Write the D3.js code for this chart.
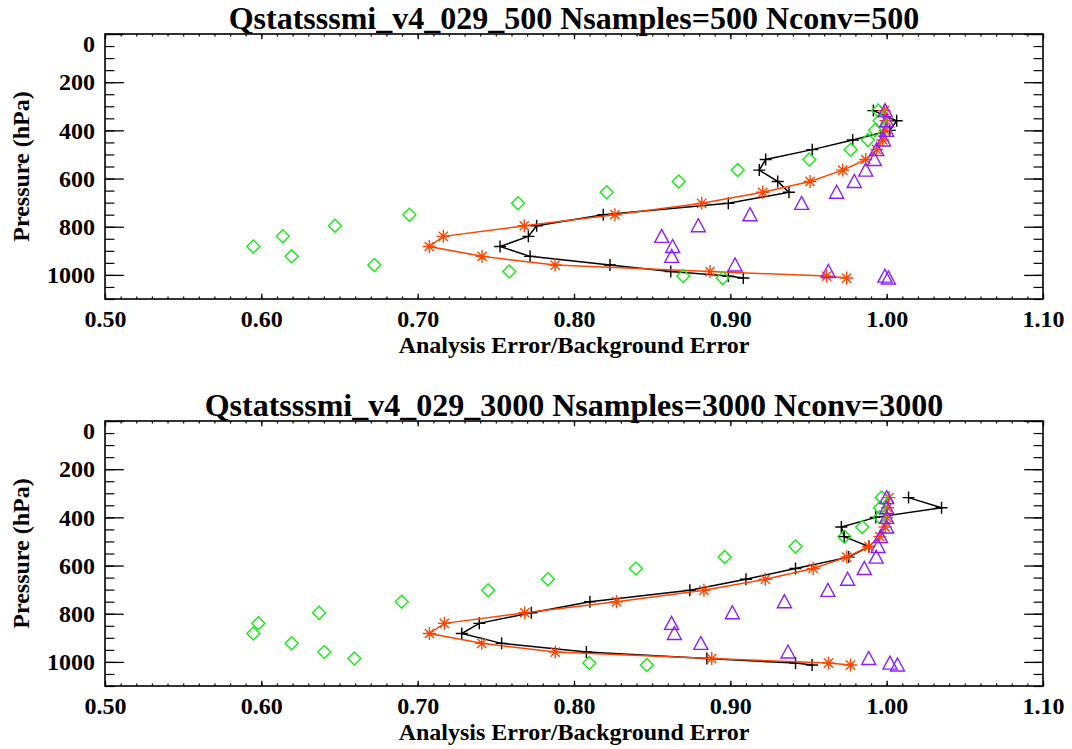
<!DOCTYPE html>
<html>
<head>
<meta charset="utf-8">
<script src="https://cdn.jsdelivr.net/npm/d3@7"></script>
<style>
  body { margin: 0; background: #fff; }
  svg { display: block; }
  text { font-family: "Liberation Serif", "Times New Roman", Tinos, "Nimbus Roman", "DejaVu Serif", serif; font-weight: 700; fill: #000; }
</style>
</head>
<body>
<svg id="chart" width="1072" height="749"></svg>
<script>
// Pressure levels (hPa) shared by every profile
const levels = [318, 360, 400, 440, 480, 521, 565, 612, 657, 703, 750, 796, 840, 882, 923, 959, 986, 1005, 1013];

// Axis ticks
const ratioTicks = [0.5, 0.6, 0.7, 0.8, 0.9, 1.0, 1.1];
const pressureTicks = [0, 200, 400, 600, 800, 1000];

// Panel titles and axis titles
const titles = [
  "Qstatsssmi_v4_029_500 Nsamples=500 Nconv=500",
  "Qstatsssmi_v4_029_3000 Nsamples=3000 Nconv=3000"
];
const xTitle = "Analysis Error/Background Error";
const yTitle = "Pressure (hPa)";

// Nsamples=500 profiles
const blackRun500  = [0.9915, 1.0064, 1.0020, 0.9783, 0.9524, 0.9226, 0.9185, 0.9303, 0.9375, 0.8987, 0.8187, 0.7761, 0.7708, 0.7527, 0.7719, 0.8230, 0.8619, 0.8987, 0.9083];
const redRun500    = [0.9985, 0.9995, 0.9990, 0.9975, 0.9936, 0.9866, 0.9719, 0.9510, 0.9207, 0.8817, 0.8262, 0.7682, 0.7164, 0.7074, 0.7412, 0.7879, 0.8870, 0.9616, 0.9744];
const greenRun500  = [0.9946, 0.9955, 0.9926, 0.9880, 0.9770, 0.9505, 0.9047, 0.8670, 0.8209, 0.7642, 0.6947, 0.6471, 0.6137, 0.5949, 0.6194, 0.6723, 0.7586, 0.8699, 0.8951];
const purpleRun500 = [0.9990, 1.0000, 1.0000, 0.9980, 0.9936, 0.9921, 0.9866, 0.9793, 0.9680, 0.9456, 0.9126, 0.8795, 0.8561, 0.8631, 0.8625, 0.9030, 0.9627, 0.9989, 1.0011];

// Nsamples=3000 profiles
const blackRun3000  = [1.0140, 1.0351, 0.9930, 0.9710, 0.9729, 0.9886, 0.9757, 0.9417, 0.9100, 0.8741, 0.8102, 0.7727, 0.7394, 0.7282, 0.7537, 0.8079, 0.8850, 0.9417, 0.9523];
const redRun3000    = [1.0015, 1.0005, 1.0000, 0.9990, 0.9956, 0.9886, 0.9745, 0.9530, 0.9224, 0.8831, 0.8272, 0.7685, 0.7171, 0.7075, 0.7410, 0.7880, 0.8881, 0.9628, 0.9769];
const greenRun3000  = [0.9968, 0.9957, 0.9956, 0.9844, 0.9729, 0.9417, 0.8964, 0.8396, 0.7833, 0.7451, 0.6898, 0.6369, 0.5981, 0.5949, 0.6194, 0.6403, 0.6595, 0.8098, 0.8466];
const purpleRun3000 = [1.0000, 1.0000, 1.0000, 1.0000, 0.9961, 0.9945, 0.9933, 0.9857, 0.9750, 0.9624, 0.9346, 0.9013, 0.8624, 0.8642, 0.8811, 0.9369, 0.9885, 1.0021, 1.0069];

const panels = [
  { title: titles[0], top: 34,  series: [blackRun500,  redRun500,  greenRun500,  purpleRun500] },
  { title: titles[1], top: 421, series: [blackRun3000, redRun3000, greenRun3000, purpleRun3000] }
];

// Series styling: colour, marker, connecting line
const styles = [
  { color: "#000000", marker: "plus",     line: true  },
  { color: "#ff4500", marker: "asterisk", line: true  },
  { color: "#14eb14", marker: "diamond",  line: false },
  { color: "#8a1eff", marker: "triangle", line: false }
];

const markerPaths = {
  plus:     "M-6,0H6M0,-6V6",
  asterisk: "M-6.5,0H6.5M0,-6.5V6.5M-4.6,-4.6L4.6,4.6M-4.6,4.6L4.6,-4.6",
  diamond:  "M0,-6.5L6.5,0L0,6.5L-6.5,0Z",
  triangle: "M-7,6L0,-7L7,6Z"
};

const serif = '"Liberation Serif", "Times New Roman", Tinos, "Nimbus Roman", "DejaVu Serif", serif';

const svg = d3.select("#chart");
const left = 105, right = 1043, plotH = 265;
const majorX = 5.3, minorX = 2.6, majorY = 18.8, minorY = 9.4;

const x = d3.scaleLinear().domain([0.5, 1.1]).range([left, right]);
const minorRatio = d3.range(0, 61).map(i => +(0.5 + i * 0.01).toFixed(2));
const minorPressure = d3.range(0, 1101, 50);

panels.forEach(panel => {
  const top = panel.top, bottom = top + plotH;
  const y = d3.scaleLinear().domain([0, 1100]).range([top, bottom]);
  const g = svg.append("g");

  // Title
  g.append("text")
    .attr("x", (left + right) / 2).attr("y", top - 5)
    .attr("text-anchor", "middle")
    .style("font-family", serif)
    .style("font-size", "32px")
    .text(panel.title);

  // Minor ticks on all four sides
  const minorAxes = [
    [d3.axisBottom(x).tickValues(minorRatio).tickSize(-minorX), `translate(0,${bottom})`],
    [d3.axisTop(x).tickValues(minorRatio).tickSize(-minorX), `translate(0,${top})`],
    [d3.axisLeft(y).tickValues(minorPressure).tickSize(-minorY), `translate(${left},0)`],
    [d3.axisRight(y).tickValues(minorPressure).tickSize(-minorY), `translate(${right},0)`]
  ];
  minorAxes.forEach(([ax, tr]) => {
    const a = g.append("g").attr("transform", tr).call(ax.tickFormat(""));
    a.select(".domain").remove();
    a.selectAll("line").attr("stroke", "#000").attr("stroke-width", 1.2);
  });

  // Major ticks, labelled on bottom and left
  const xAxis = g.append("g").attr("transform", `translate(0,${bottom})`)
    .call(d3.axisBottom(x).tickValues(ratioTicks).tickSize(-majorX).tickPadding(11).tickFormat(d3.format(".2f")));
  const xTop = g.append("g").attr("transform", `translate(0,${top})`)
    .call(d3.axisTop(x).tickValues(ratioTicks).tickSize(-majorX).tickFormat(""));
  const yAxis = g.append("g").attr("transform", `translate(${left},0)`)
    .call(d3.axisLeft(y).tickValues(pressureTicks).tickSize(-majorY).tickPadding(10).tickFormat(d3.format("d")));
  const yRight = g.append("g").attr("transform", `translate(${right},0)`)
    .call(d3.axisRight(y).tickValues(pressureTicks).tickSize(-majorY).tickFormat(""));
  [xAxis, xTop, yAxis, yRight].forEach(a => {
    a.select(".domain").remove();
    a.selectAll("line").attr("stroke", "#000").attr("stroke-width", 1.3);
    a.selectAll("text").attr("fill", "#000").style("font-size", "24px")
      .style("font-family", serif).style("font-weight", "700");
  });
  // the top label sits just inside the frame
  yAxis.selectAll(".tick").filter(d => d === 0).select("text").attr("dy", "0.72em");

  // Frame
  g.append("rect")
    .attr("x", left).attr("y", top).attr("width", right - left).attr("height", plotH)
    .attr("fill", "none").attr("stroke", "#000").attr("stroke-width", 1.6);

  // Axis titles
  g.append("text")
    .attr("x", (left + right) / 2).attr("y", bottom + 54)
    .attr("text-anchor", "middle")
    .style("font-family", serif).style("font-size", "24px")
    .text(xTitle);
  g.append("text")
    .attr("transform", `translate(29,${(top + bottom) / 2}) rotate(-90)`)
    .attr("text-anchor", "middle")
    .style("font-family", serif).style("font-size", "24px")
    .text(yTitle);

  // Profiles
  panel.series.forEach((vals, si) => {
    const st = styles[si];
    const pts = vals.map((v, i) => [v, levels[i]]);
    const sg = g.append("g");
    if (st.line) {
      sg.append("path")
        .attr("d", d3.line().x(d => x(d[0])).y(d => y(d[1]))(pts))
        .attr("fill", "none").attr("stroke", st.color).attr("stroke-width", 1.5);
    }
    sg.selectAll("path.mk").data(pts).enter().append("path")
      .attr("class", "mk")
      .attr("transform", d => `translate(${x(d[0])},${y(d[1])})`)
      .attr("d", markerPaths[st.marker])
      .attr("fill", "none").attr("stroke", st.color).attr("stroke-width", 1.4);
  });
});
</script>
</body>
</html>
